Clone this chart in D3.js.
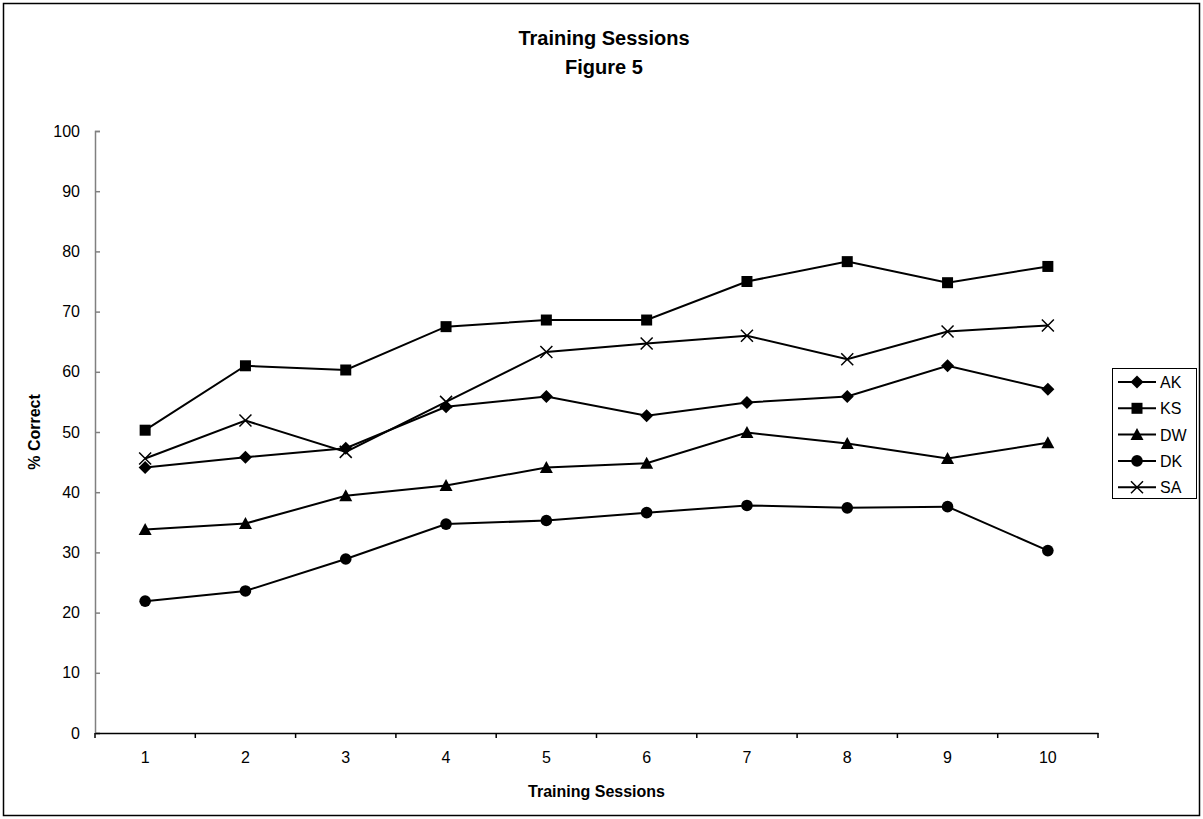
<!DOCTYPE html>
<html><head><meta charset="utf-8">
<script src="https://cdn.jsdelivr.net/npm/d3@7"></script>
<style>body{margin:0;background:#fff;} svg{display:block;} text{font-family:"Liberation Sans",Arial,sans-serif;}</style>
</head><body><svg id="c" width="1203" height="819"></svg>
<script>
const sessions = [1,2,3,4,5,6,7,8,9,10];
const AK = [44.1,45.8,47.3,54.2,55.9,52.7,54.9,55.9,61.0,57.1];
const KS = [50.3,61.0,60.3,67.5,68.6,68.6,75.0,78.3,74.8,77.5];
const DW = [33.8,34.8,39.4,41.1,44.1,44.8,49.9,48.1,45.6,48.2];
const DK = [21.9,23.6,28.9,34.7,35.3,36.6,37.8,37.4,37.6,30.3];
const SA = [45.6,51.9,46.7,55.0,63.3,64.7,66.0,62.1,66.7,67.7];
const seriesNames = ["AK","KS","DW","DK","SA"];
const yTicks = [0,10,20,30,40,50,60,70,80,90,100];
const title1 = "Training Sessions", title2 = "Figure 5";
const xTitle = "Training Sessions", yTitle = "% Correct";

const series = [
  {name:"AK", values:AK, shape:"diamond"},
  {name:"KS", values:KS, shape:"square"},
  {name:"DW", values:DW, shape:"triangle"},
  {name:"DK", values:DK, shape:"circle"},
  {name:"SA", values:SA, shape:"x"}
];

const svg = d3.select("#c");
svg.append("rect").attr("x",3.5).attr("y",3.5).attr("width",1196).attr("height",812)
  .attr("fill","#fff").attr("stroke","#000").attr("stroke-width",1.5);

const L=95, R=1098, T=131, B=733;
const x = d3.scaleBand().domain(sessions).range([L,R]);
const y = d3.scaleLinear().domain([0,100]).range([B,T]);
const cx = d => x(d)+x.bandwidth()/2;

// titles
svg.append("text").attr("x",604).attr("y",45).attr("text-anchor","middle")
  .attr("font-size",20).attr("font-weight","bold").text(title1);
svg.append("text").attr("x",604).attr("y",74).attr("text-anchor","middle")
  .attr("font-size",20).attr("font-weight","bold").text(title2);

// y axis
const ya = svg.append("g").attr("transform",`translate(${L},0)`)
  .call(d3.axisLeft(y).tickValues(yTicks).tickSize(-5).tickPadding(15));
ya.select(".domain").attr("stroke","#808080").attr("stroke-width",1.5);
ya.selectAll(".tick line").attr("stroke","#808080").attr("stroke-width",1.5);
ya.selectAll(".tick text").attr("font-size",16).attr("fill","#000").attr("font-family","Liberation Sans, Arial, sans-serif");

// x axis
const xa = svg.append("g").attr("transform",`translate(0,${B})`)
  .call(d3.axisBottom(x).tickSize(0).tickPadding(19));
xa.select(".domain").attr("stroke","#000").attr("stroke-width",1.5);
xa.selectAll(".tick text").attr("font-size",16).attr("fill","#000").attr("font-family","Liberation Sans, Arial, sans-serif");
// category boundary ticks
const bounds = sessions.map(s=>x(s)).concat([R]);
svg.append("g").selectAll("line").data(bounds).join("line")
  .attr("x1",d=>d).attr("x2",d=>d).attr("y1",B).attr("y2",B+5)
  .attr("stroke","#000").attr("stroke-width",1.5);

// axis titles
svg.append("text").attr("x",(L+R)/2).attr("y",797).attr("text-anchor","middle")
  .attr("font-size",16).attr("font-weight","bold").text(xTitle);
svg.append("text").attr("transform",`translate(40,${(T+B)/2}) rotate(-90)`).attr("text-anchor","middle")
  .attr("font-size",16).attr("font-weight","bold").text(yTitle);

// symbols
function drawMarker(g, shape, px, py){
  if(shape==="square") g.append("rect").attr("x",px-5.5).attr("y",py-5.5).attr("width",11).attr("height",11).attr("fill","#000");
  else if(shape==="diamond") g.append("path").attr("d",`M${px},${py-6.5}L${px+6.5},${py}L${px},${py+6.5}L${px-6.5},${py}Z`).attr("fill","#000");
  else if(shape==="triangle") g.append("path").attr("d",`M${px},${py-6.5}L${px+6.5},${py+5.5}L${px-6.5},${py+5.5}Z`).attr("fill","#000");
  else if(shape==="circle") g.append("circle").attr("cx",px).attr("cy",py).attr("r",5.8).attr("fill","#000");
  else if(shape==="x") g.append("path").attr("d",`M${px-6},${py-6}L${px+6},${py+6}M${px-6},${py+6}L${px+6},${py-6}`).attr("stroke","#000").attr("stroke-width",1.5).attr("fill","none");
}

const line = d3.line().x(d=>cx(d.s)).y(d=>y(d.v));
series.forEach(sr=>{
  const pts = sessions.map((s,i)=>({s, v:sr.values[i]}));
  const g = svg.append("g");
  g.append("path").attr("d",line(pts)).attr("fill","none").attr("stroke","#000").attr("stroke-width",2);
  pts.forEach(p=>drawMarker(g, sr.shape, cx(p.s), y(p.v)));
});

// legend
const lgX=1112, lgY=368, lgW=84, lgH=130;
svg.append("rect").attr("x",lgX+0.5).attr("y",lgY+0.5).attr("width",lgW).attr("height",lgH)
  .attr("fill","#fff").attr("stroke","#000").attr("stroke-width",1);
series.forEach((sr,i)=>{
  const ry = lgY+14+i*26.3;
  const g = svg.append("g");
  g.append("line").attr("x1",1118).attr("x2",1156).attr("y1",ry).attr("y2",ry).attr("stroke","#000").attr("stroke-width",2);
  drawMarker(g, sr.shape, 1137, ry);
  g.append("text").attr("x",1160).attr("y",ry+6).attr("font-size",16).text(sr.name);
});
</script></body></html>
